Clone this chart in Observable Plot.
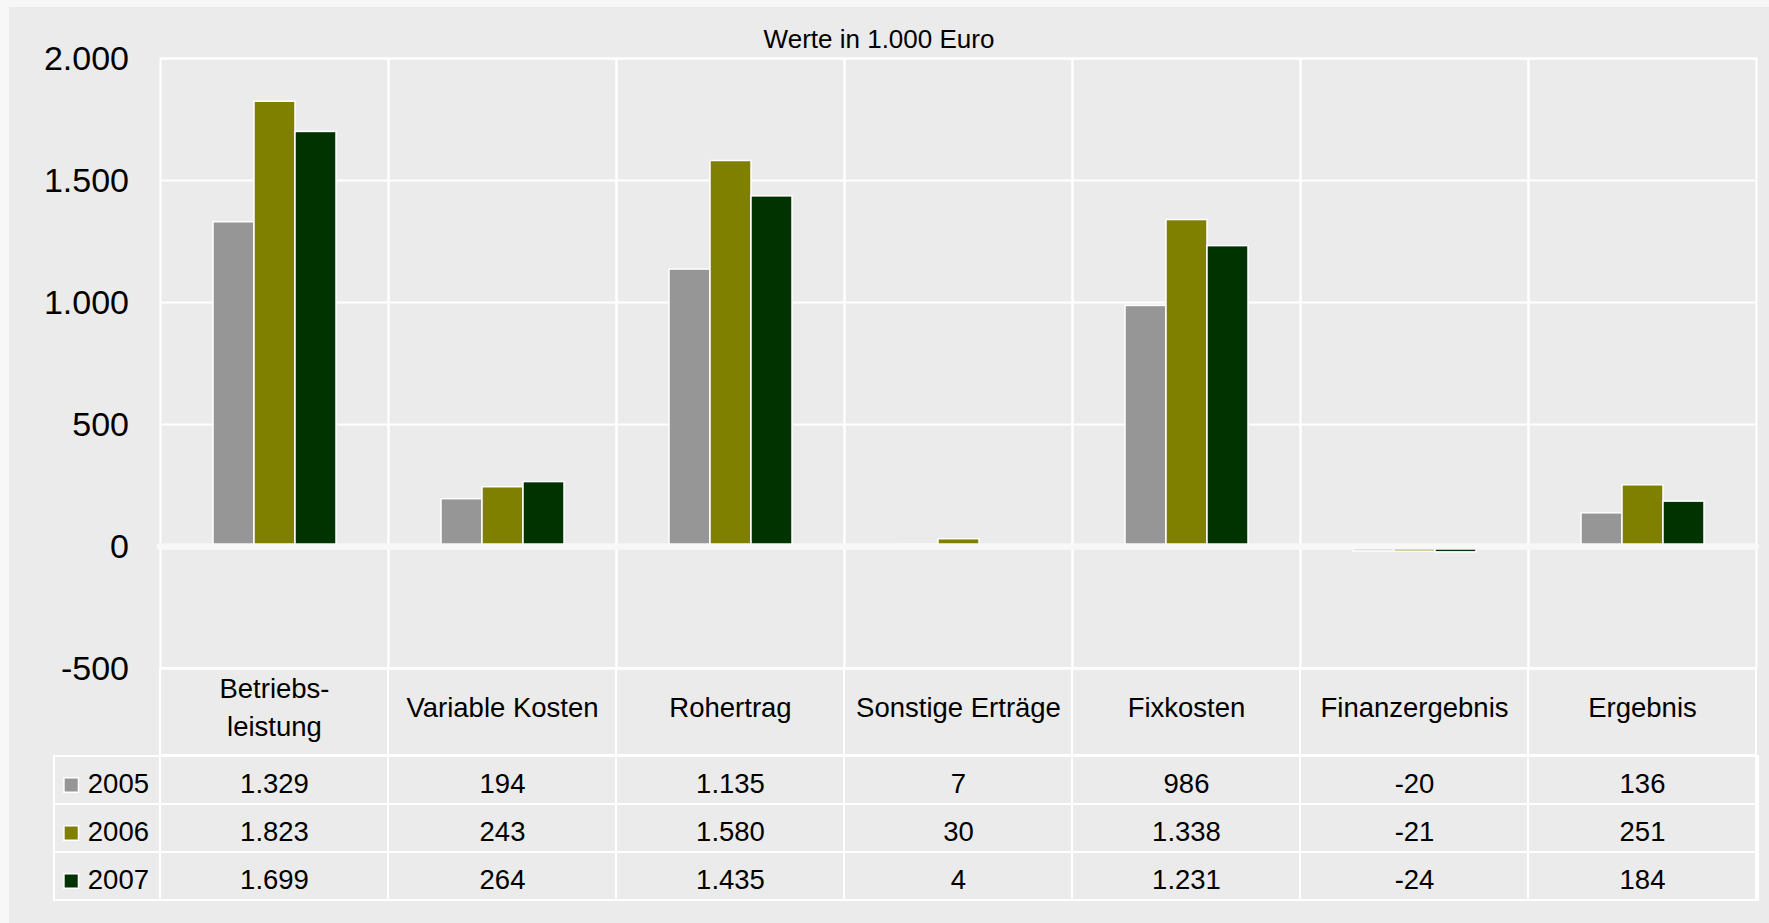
<!DOCTYPE html>
<html><head><meta charset="utf-8">
<script src="https://cdn.jsdelivr.net/npm/d3@7"></script>
<script src="https://cdn.jsdelivr.net/npm/@observablehq/plot@0.6"></script>
<style>
html,body{margin:0;padding:0;background:#f7f7f7;}
#chart{position:relative;width:1769px;height:923px;overflow:hidden;font-family:"Liberation Sans",Arial,sans-serif;}
#box{position:absolute;left:9px;top:7px;right:0;bottom:0;background:#eaebea;}
#title{position:absolute;left:0;width:1758px;top:26px;text-align:center;font-size:26px;line-height:26px;color:#000;}
#chart svg{position:absolute;left:0;}
</style></head><body>
<div id="chart"><div id="box"></div><div id="title">Werte in 1.000 Euro</div></div>
<script>
const categories = ["Betriebs-\nleistung", "Variable Kosten", "Rohertrag", "Sonstige Erträge", "Fixkosten", "Finanzergebnis", "Ergebnis"];
const years = ["2005", "2006", "2007"];
const values2005 = [1329, 194, 1135, 7, 986, -20, 136];
const values2006 = [1823, 243, 1580, 30, 1338, -21, 251];
const values2007 = [1699, 264, 1435, 4, 1231, -24, 184];
const colors = ["#969696", "#808000", "#003300"];
const yTicks = [-500, 0, 500, 1000, 1500, 2000];

const series = [values2005, values2006, values2007];
const data = years.flatMap((yr, j) => categories.map((c, i) => ({category: c, year: yr, value: series[j][i]})));

const de = d3.formatLocale({decimal: ",", thousands: ".", grouping: [3], currency: ["", " €"], minus: "-"});
const fmt = de.format(",d");

const W = 1769, ML = 157, MR = 11, TABLE_LEFT = 54;
const font = '"Liberation Sans", Arial, sans-serif';
const baseStyle = {background: "none", color: "#000", fontFamily: font, overflow: "visible"};

const chart = Plot.plot({
  width: W, height: 670, marginTop: 58, marginBottom: 2, marginLeft: ML, marginRight: MR,
  style: {...baseStyle, fontSize: "34px"},
  fx: {domain: categories, padding: 0, axis: null, label: null},
  x: {domain: years, paddingInner: 0, paddingOuter: 1.25, axis: null},
  y: {domain: [-500, 2000], label: null},
  color: {domain: years, range: colors},
  marks: [
    Plot.gridY(yTicks, {stroke: "white", strokeOpacity: 1, strokeWidth: 2}),
    Plot.frame({stroke: "white", strokeWidth: 2}),
    Plot.barY(data, {fx: "category", x: "year", y: "value", fill: "year", stroke: "white", strokeWidth: 1.5}),
    Plot.ruleY([0], {stroke: "#f8f8f8", strokeWidth: 6.7, strokeLinecap: "round"}),
    Plot.axisY(yTicks, {tickSize: 0, tickPadding: 31.5, tickFormat: fmt, fontSize: 34, fill: "#000", dy: 1})
  ]
});
chart.style.top = "0px";

const labels = Plot.plot({
  width: W, height: 89, marginTop: 1, marginBottom: 1, marginLeft: ML, marginRight: MR,
  style: {...baseStyle, fontSize: "27.5px"},
  x: {domain: categories, padding: 0, axis: null},
  marks: [
    Plot.cell(categories, {x: d => d, fill: "none", stroke: "white", strokeWidth: 2}),
    Plot.text(categories, {x: d => d, text: d => d, frameAnchor: "middle", fontSize: 27.5, lineHeight: 1.4, dy: -7.5, fill: "#000"})
  ]
});
labels.style.top = "667px";

const table = Plot.plot({
  width: W, height: 148, marginTop: 1, marginBottom: 1, marginLeft: ML, marginRight: MR,
  style: {...baseStyle, fontSize: "27.5px"},
  x: {domain: categories, padding: 0, axis: null},
  y: {domain: years, padding: 0, axis: null},
  color: {domain: years, range: colors},
  marks: [
    Plot.cell(years, {y: d => d, fill: "none", stroke: "white", strokeWidth: 2, insetLeft: -(ML - TABLE_LEFT)}),
    Plot.cell(data, {x: "category", y: "year", fill: "none", stroke: "white", strokeWidth: 2}),
    Plot.text(data, {x: "category", y: "year", text: d => fmt(d.value), dy: 4, fontSize: 27.5, fill: "#000"}),
    Plot.dot(years, {y: d => d, frameAnchor: "left", dx: -86.3, dy: 4.5, symbol: "square", r: 8.2, fill: d => d, stroke: "white", strokeWidth: 1.5}),
    Plot.text(years, {y: d => d, frameAnchor: "left", textAnchor: "start", dx: -69.7, dy: 4, fontSize: 27.5, fill: "#000"})
  ]
});
table.style.top = "754px";

const root = document.getElementById("chart");
root.appendChild(chart);
root.appendChild(labels);
root.appendChild(table);
</script>
</body></html>
